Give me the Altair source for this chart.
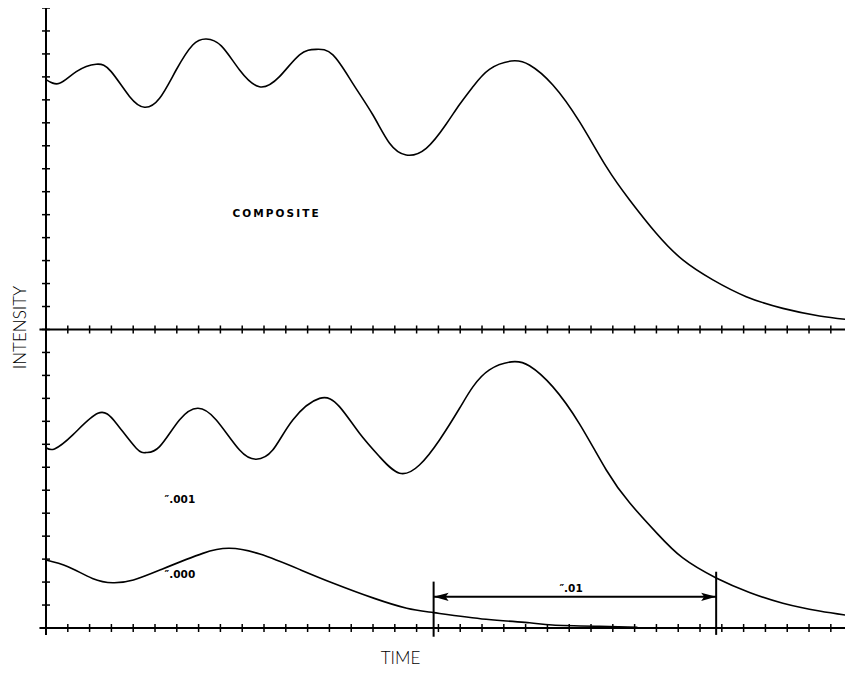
import altair as alt
import pandas as pd

# ---- data (time and intensity in axis-tick units) ----
comp_t = [0.02, 0.62, 1.39, 2.30, 2.99, 3.83, 4.52, 5.21, 5.97, 6.73, 7.35, 8.04, 8.88,
          9.79, 10.71, 11.63, 12.39, 13.16, 14.07, 14.99, 15.76, 16.52, 17.44, 18.36, 18.97,
          19.58, 20.34, 21.34, 22.18, 23.25, 24.47, 25.70, 26.77, 27.99, 29.21, 30.59, 32.12,
          33.80, 35.48, 36.99]
comp_i = [10.87, 10.72, 11.23, 11.55, 11.23, 10.15, 9.68, 10.07, 11.30, 12.39, 12.65,
          12.35, 11.30, 10.57, 11.01, 11.96, 12.20, 11.96, 10.72, 9.35, 8.11, 7.60, 7.89, 8.95,
          9.80, 10.57, 11.33, 11.69, 11.52, 10.65, 9.05, 7.09, 5.64, 4.19, 3.03, 2.16, 1.43,
          0.92, 0.59, 0.41]

c001_t = [0.02, 0.39, 1.23, 2.38, 3.22, 4.14, 4.60, 5.21, 6.12, 6.96, 7.81, 8.88, 9.64, 10.40,
          11.32, 12.55, 13.46, 14.38, 15.30, 16.22, 17.13, 18.05, 18.97, 19.58, 20.34, 21.35,
          22.18, 23.25, 24.47, 25.70, 26.77, 28.05, 29.21, 30.74, 32.27, 33.80, 35.48, 36.99]
c001_i = [7.84, 7.80, 8.41, 9.35, 8.92, 7.83, 7.64, 7.90, 9.06, 9.57, 9.06, 7.75, 7.35, 7.75,
          9.06, 10.00, 9.64, 8.48, 7.46, 6.74, 7.10, 8.19, 9.57, 10.50, 11.24, 11.59, 11.41,
          10.50, 8.89, 6.88, 5.45, 4.10, 3.05, 2.18, 1.55, 1.08, 0.74, 0.52]

c000_t = [0.00, 1.01, 2.13, 3.07, 4.01, 5.32, 7.19, 8.41, 9.81, 11.68, 13.18, 15.06, 16.55,
          17.78, 20.19, 22.18, 23.23, 25.39, 27.13]
c000_i = [2.96, 2.67, 2.16, 1.97, 2.09, 2.56, 3.25, 3.47, 3.22, 2.53, 1.95, 1.29, 0.86, 0.67,
          0.38, 0.23, 0.13, 0.07, 0.03]

panel_ticks_bottom = 13   # intensity ticks in lower panel
panel_ticks_top = 14      # intensity ticks in upper panel
time_ticks = 36

labels = ["C\u2009O\u2009M\u2009P\u2009O\u2009S\u2009I\u2009T\u2009E", "\u2033.001", "\u2033.000", "\u2033.01"]
label_t = [10.53, 5.44, 5.44, 23.55]
label_i = [18.03, 5.44, 2.18, 1.55]

interval_t = [17.78, 30.74]
interval_lo = [-0.38, -0.30]
interval_hi = [2.02, 2.45]
arrow_level = 1.36

# ---- scales / axes ----
X_VIEW = 36.65
X_MAX = 37.0
Y_MAX = panel_ticks_bottom + panel_ticks_top
xs = alt.Scale(domain=[0, X_VIEW], nice=False, zero=False)
ys = alt.Scale(domain=[0, Y_MAX], nice=False, zero=False)
xaxis = alt.Axis(title="TIME", labels=False, ticks=False, domain=False, grid=False,
                 titleFont="Lato", titleFontWeight=300, titleFontSize=17, titleColor="black",
                 titleX=354, titleY=35, titleAlign="center", titleBaseline="alphabetic")
yaxis = alt.Axis(title="INTENSITY", labels=False, ticks=False, domain=False, grid=False,
                 titleFont="Lato", titleFontWeight=300, titleFontSize=17, titleColor="black",
                 titleX=-21, titleY=319, titleAlign="center", titleBaseline="alphabetic",
                 titleAngle=270)

def X(f="x"):
    return alt.X(f"{f}:Q", scale=xs, axis=xaxis)

def Y(f="y"):
    return alt.Y(f"{f}:Q", scale=ys, axis=yaxis)

# ---- tables ----
curves = pd.concat([
    pd.DataFrame({"x": comp_t, "y": [v + panel_ticks_bottom for v in comp_i], "s": "composite"}),
    pd.DataFrame({"x": c001_t, "y": c001_i, "s": "001"}),
    pd.DataFrame({"x": c000_t, "y": c000_i, "s": "000"}),
])

axes_h = pd.DataFrame({"x": [-0.3, -0.3], "x2": [X_MAX, X_MAX], "y": [0, panel_ticks_bottom]})
axes_v = pd.DataFrame({"x": [0], "y": [-0.3], "y2": [Y_MAX + 0.1]})
ticks_h = pd.DataFrame({"x": [t for base in (0, panel_ticks_bottom) for t in range(1, time_ticks + 1)],
                        "y": [base for base in (0, panel_ticks_bottom) for t in range(1, time_ticks + 1)]})
ticks_v = pd.DataFrame({"x": [0] * (Y_MAX + 1), "y": list(range(0, Y_MAX + 1))})

bars = pd.DataFrame({"x": interval_t, "y": interval_lo, "y2": interval_hi})
shaft = pd.DataFrame({"x": [interval_t[0]], "x2": [interval_t[1]], "y": [arrow_level]})
head_l = pd.DataFrame({"x": [interval_t[0]], "y": [arrow_level]})
head_r = pd.DataFrame({"x": [interval_t[1]], "y": [arrow_level]})
txt = pd.DataFrame({"x": label_t, "y": label_i, "t": labels})

# ---- layers ----
axis_h_layer = alt.Chart(axes_h).mark_rule(color="black", strokeWidth=2).encode(
    x=X(), x2="x2:Q", y=Y())
axis_v_layer = alt.Chart(axes_v).mark_rule(color="black", strokeWidth=2).encode(
    x=X(), y=Y(), y2="y2:Q")
tick_h_layer = alt.Chart(ticks_h).mark_rule(color="black", strokeWidth=1.5, yOffset=-4, y2Offset=4).encode(
    x=X(), y=Y(), y2="y:Q")
tick_v_layer = alt.Chart(ticks_v).mark_rule(color="black", strokeWidth=1.5, xOffset=-4, x2Offset=4).encode(
    x=X(), x2="x:Q", y=Y())
curve_layer = alt.Chart(curves).mark_line(color="black", strokeWidth=1.6, interpolate="natural").encode(
    x=X(), y=Y(), detail="s:N")
bar_layer = alt.Chart(bars).mark_rule(color="black", strokeWidth=2).encode(
    x=X(), y=Y(), y2="y2:Q")
shaft_layer = alt.Chart(shaft).mark_rule(color="black", strokeWidth=2.2).encode(
    x=X(), x2="x2:Q", y=Y())
head_l_layer = alt.Chart(head_l).mark_point(shape="M0,0L2,-0.55L1.6,0L2,0.55Z", size=225,
                                            filled=True, fill="black", opacity=1, strokeWidth=0).encode(
    x=X(), y=Y())
head_r_layer = alt.Chart(head_r).mark_point(shape="M0,0L-2,-0.55L-1.6,0L-2,0.55Z", size=225,
                                            filled=True, fill="black", opacity=1, strokeWidth=0).encode(
    x=X(), y=Y())
text_big = alt.Chart(txt.iloc[[0]]).mark_text(font="DejaVu Sans", fontWeight="bold", fontSize=10.5,
                                               align="center", baseline="middle", color="black").encode(
    x=X(), y=Y(), text="t:N")
text_small = alt.Chart(txt.iloc[1:]).mark_text(font="DejaVu Sans", fontWeight="bold", fontSize=10.5,
                                                align="left", baseline="alphabetic", color="black").encode(
    x=X(), y=Y(), text="t:N")

chart = alt.layer(
    axis_h_layer, axis_v_layer, tick_h_layer, tick_v_layer, curve_layer,
    bar_layer, shaft_layer, head_l_layer, head_r_layer, text_big, text_small
).properties(
    width=799, height=620,
    autosize=alt.AutoSizeParams(type="none"),
    padding={"left": 38, "top": 0, "right": 0, "bottom": 42},
    background="white",
).configure_view(stroke=None)

chart.save("out.html", embed_options={"renderer": "svg", "actions": False})
